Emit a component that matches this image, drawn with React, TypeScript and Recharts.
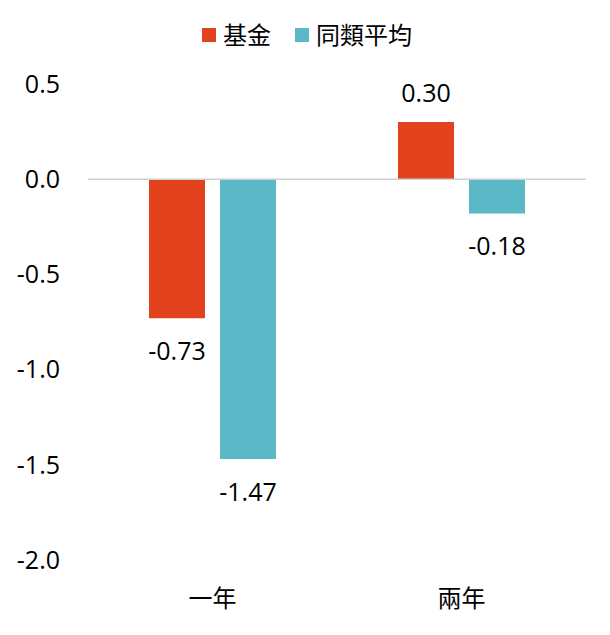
import { Bar, BarChart, LabelList, ReferenceLine, XAxis, YAxis } from "recharts";

const categories = ["一年", "兩年"];
const fundValues = [-0.73, 0.3];
const peerValues = [-1.47, -0.18];
const seriesNames = ["基金", "同類平均"];
const yTicks = [0.5, 0, -0.5, -1, -1.5, -2];

const COLORS = ["#E2431E", "#5BB9C7"];
const FONT = "'Open Sans', 'Noto Sans CJK TC', sans-serif";

const data = categories.map((name, i) => ({
  name,
  fund: fundValues[i],
  peer: peerValues[i],
}));

// Outside-end value labels, Excel style: above positive bars, below negative ones.
function ValueLabel(props: any) {
  const { x, y, width, height, value } = props;
  const top = Math.min(y, y + height);
  const bottom = Math.max(y, y + height);
  const cx = x + width / 2;
  const baseline = value >= 0 ? top - 20 : bottom + 42;
  return (
    <text x={cx} y={baseline} textAnchor="middle" fontSize={25} fill="#000" fontFamily={FONT}>
      {Number(value).toFixed(2)}
    </text>
  );
}

function LegendRow() {
  return (
    <div
      style={{
        position: "absolute",
        top: 20,
        left: 0,
        width: 610,
        display: "flex",
        justifyContent: "center",
        gap: 24,
        fontFamily: FONT,
        fontSize: 24,
        lineHeight: "30px",
        color: "#000",
        paddingLeft: 4,
        boxSizing: "border-box",
      }}
    >
      {seriesNames.map((s, i) => (
        <div key={s} style={{ display: "flex", alignItems: "center", gap: 7 }}>
          <span style={{ display: "inline-block", width: 14, height: 14, background: COLORS[i] }} />
          <span>{s}</span>
        </div>
      ))}
    </div>
  );
}

export default function App() {
  return (
    <div style={{ position: "absolute", left: 0, top: 0, width: 610, height: 635, background: "#fff" }}>
      <LegendRow />
      <BarChart
        width={610}
        height={635}
        data={data}
        margin={{ top: 84, right: 24, bottom: 0, left: 0 }}
        barSize={56}
        barGap={15}
      >
        <YAxis
          type="number"
          domain={[-2, 0.5]}
          ticks={yTicks}
          width={88}
          axisLine={false}
          tickLine={false}
          tickSize={0}
          tickMargin={28}
          tickFormatter={(v: number) => v.toFixed(1)}
          tick={{ fontSize: 25, fill: "#000", fontFamily: FONT }}
          interval={0}
        />
        <XAxis
          dataKey="name"
          height={75}
          axisLine={false}
          tickLine={false}
          tickSize={0}
          tickMargin={30}
          tick={{ fontSize: 24, fill: "#000", fontFamily: FONT }}
        />
        <ReferenceLine y={0} stroke="#D0D0D0" strokeWidth={1.5} />
        <Bar dataKey="fund" name={seriesNames[0]} fill={COLORS[0]} isAnimationActive={false}>
          <LabelList dataKey="fund" content={ValueLabel} />
        </Bar>
        <Bar dataKey="peer" name={seriesNames[1]} fill={COLORS[1]} isAnimationActive={false}>
          <LabelList dataKey="peer" content={ValueLabel} />
        </Bar>
      </BarChart>
    </div>
  );
}
